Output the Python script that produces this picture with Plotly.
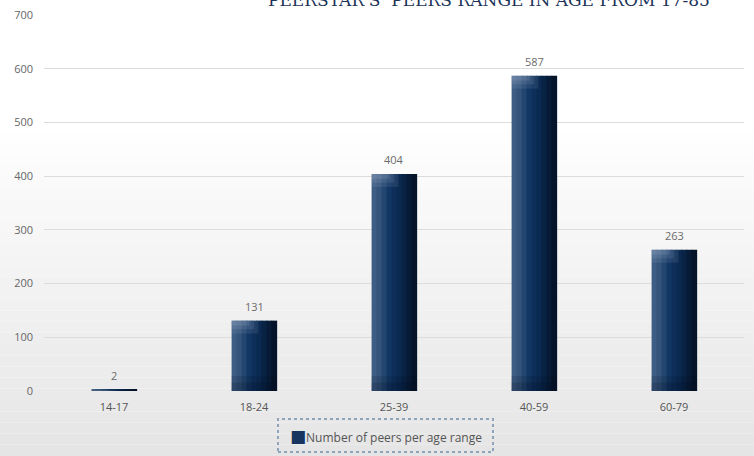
import plotly.graph_objects as go

categories = ["14-17", "18-24", "25-39", "40-59", "60-79"]
peers = [2, 131, 404, 587, 263]
series_name = "Number of peers per age range"
title_text = "PEERSTAR'S  PEERS RANGE IN AGE FROM 17-85"
y_ticks = [0, 100, 200, 300, 400, 500, 600, 700]

W, H = 754, 456
ML, MR, MT, MB = 44, 10, 15, 65
PW, PH = W - ML - MR, H - MT - MB

def px_x(p):
    return (p - ML) / PW

def px_y(p):
    return (H - MB - p) / PH

fig = go.Figure()

BAR_W = 0.32
strip_colors = ["#3d5d84", "#34547b", "#234670", "#133764", "#0d2f5a",
                "#0b2a51", "#092345", "#071b37", "#06142a"]
ns = len(strip_colors)
sw = BAR_W / ns
for i, col in enumerate(strip_colors):
    fig.add_trace(go.Bar(
        x=categories, y=peers, showlegend=False, hoverinfo="skip",
        width=sw * 1.15, offset=-BAR_W / 2 + i * sw,
        marker=dict(color=col, line=dict(width=0)),
    ))

for h, wf, a in [(24, 0.6, 0.10), (16, 0.5, 0.10), (9, 0.4, 0.12)]:
    cap = [min(v, h) for v in peers]
    fig.add_trace(go.Bar(
        x=categories, y=cap, base=[v - c for v, c in zip(peers, cap)],
        showlegend=False, hoverinfo="skip",
        width=BAR_W * wf, offset=-BAR_W / 2,
        marker=dict(color=f"rgba(210,220,235,{a})", line=dict(width=0)),
    ))
for h, a in [(28, 0.12), (16, 0.15)]:
    bot = [min(v, h) for v in peers]
    fig.add_trace(go.Bar(
        x=categories, y=bot, showlegend=False, hoverinfo="skip",
        width=BAR_W, offset=-BAR_W / 2,
        marker=dict(color=f"rgba(0,8,20,{a})", line=dict(width=0)),
    ))

annotations = []
for c, v in zip(categories, peers):
    annotations.append(dict(x=c, y=v, text=str(v), showarrow=False,
                            yanchor="bottom", yshift=5,
                            font=dict(color="#6b6b6b", size=11, family="Open Sans")))

shapes = []
n = 30
top_px, bot_px = 120, H
for i in range(n):
    y0p = top_px + (bot_px - top_px) * i / n
    y1p = top_px + (bot_px - top_px) * (i + 1) / n
    t = (i + 0.5) / n
    c = int(round(255 - 26 * t))
    shapes.append(dict(type="rect", xref="paper", yref="paper", layer="below",
                       x0=px_x(0), x1=px_x(W), y0=px_y(y1p), y1=px_y(y0p),
                       fillcolor=f"rgb({c},{c},{c})", line=dict(width=0)))
shapes.append(dict(type="rect", xref="paper", yref="paper",
                   x0=px_x(278), x1=px_x(493), y0=px_y(452), y1=px_y(419),
                   line=dict(color="#8ea4bb", width=2, dash="dot"),
                   fillcolor="rgba(0,0,0,0)"))

annotations += [
    dict(text=title_text, xref="paper", yref="paper",
         x=px_x(712), xanchor="right", y=px_y(12), yanchor="bottom",
         showarrow=False,
         font=dict(family="DejaVu Serif", size=17, color="#1b3358")),
    dict(text="<span style='color:#17355f;font-size:17px;font-family:DejaVu Sans'>■</span>" + series_name,
         xref="paper", yref="paper", x=px_x(386), xanchor="center",
         y=px_y(436), yanchor="middle", showarrow=False,
         font=dict(family="Open Sans", size=12, color="#555555")),
]

fig.update_layout(
    width=W, height=H,
    margin=dict(l=ML, r=MR, t=MT, b=MB, autoexpand=False),
    paper_bgcolor="white", plot_bgcolor="rgba(0,0,0,0)",
    barmode="overlay",
    font=dict(family="Open Sans", color="#666666", size=11),
    shapes=shapes,
    showlegend=False,
    annotations=annotations,
)
fig.update_xaxes(showgrid=False, showline=False, ticks="", automargin=False,
                 tickfont=dict(size=11, color="#555555"), ticklabelstandoff=8)
fig.update_yaxes(range=[0, 700], tickvals=y_ticks, showgrid=True, gridcolor="#dcdcdc",
                 gridwidth=1, zeroline=False, showline=False, ticks="", automargin=False,
                 tickfont=dict(size=11, color="#666666"), ticklabelstandoff=10)

fig.write_html("out.html")
